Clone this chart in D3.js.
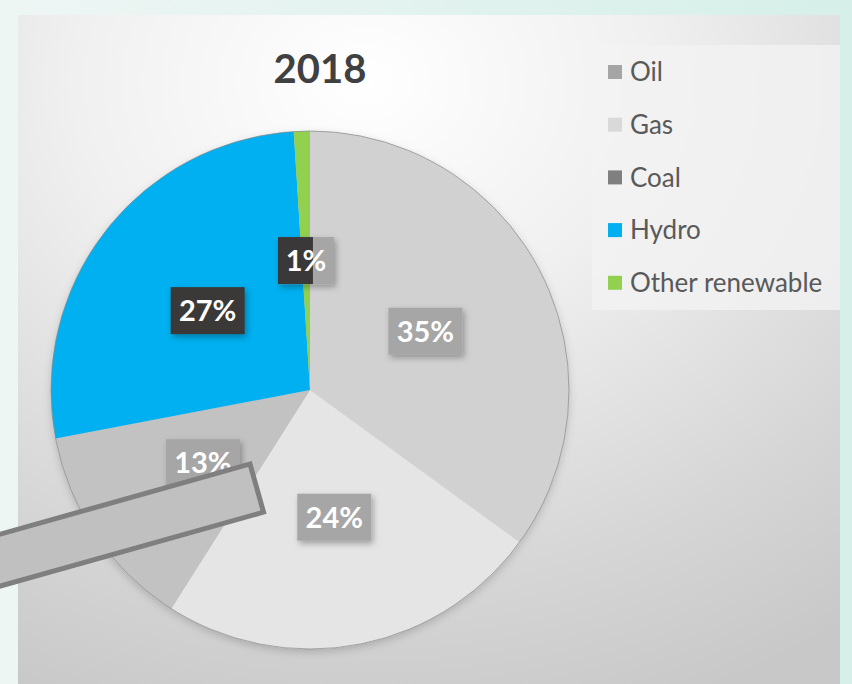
<!DOCTYPE html>
<html><head><meta charset="utf-8">
<script src="https://cdn.jsdelivr.net/npm/d3@7"></script>
<style>html,body{margin:0;padding:0;background:#e4f3ef;}svg{display:block;}</style>
</head><body>
<svg id="c" width="852" height="684"></svg>
<script>
const categories = ["Oil", "Gas", "Coal", "Hydro", "Other renewable"];
const values = [35, 24, 13, 27, 1];
const labels = ["35%", "24%", "13%", "27%", "1%"];
const sliceColors = ["#d1d1d1", "#e5e5e5", "#c2c2c2", "#00b0f0", "#92d050"];
const legendColors = ["#a5a5a5", "#d9d9d9", "#7f7f7f", "#00b0f0", "#92d050"];
const labelFills = ["#a6a6a6", "#a6a6a6", "#a6a6a6", "#3a3838", "#3a3838"];
const title = "2018";

const svg = d3.select("#c");
const defs = svg.append("defs");
const bg = defs.append("linearGradient").attr("id","bgT").attr("x1",0).attr("y1",0).attr("x2",1).attr("y2",0);
bg.append("stop").attr("offset","0").attr("stop-color","#eef6f4");
bg.append("stop").attr("offset","1").attr("stop-color","#d6efe9");
const pg = defs.append("radialGradient").attr("id","panel").attr("cx","0.42").attr("cy","0.1").attr("r","1.0");
pg.append("stop").attr("offset","0").attr("stop-color","#ffffff");
pg.append("stop").attr("offset","0.35").attr("stop-color","#f0f0f0");
pg.append("stop").attr("offset","0.75").attr("stop-color","#d6d6d6");
pg.append("stop").attr("offset","1").attr("stop-color","#c8c8c8");
const sh = defs.append("filter").attr("id","sh").attr("x","-30%").attr("y","-30%").attr("width","160%").attr("height","160%");
sh.append("feDropShadow").attr("dx",2).attr("dy",3).attr("stdDeviation",3).attr("flood-color","#000").attr("flood-opacity",0.3);
const psh = defs.append("filter").attr("id","psh").attr("x","-10%").attr("y","-10%").attr("width","120%").attr("height","120%");
psh.append("feDropShadow").attr("dx",0).attr("dy",3).attr("stdDeviation",4).attr("flood-color","#000").attr("flood-opacity",0.18);

svg.append("rect").attr("width",852).attr("height",684).attr("fill","url(#bgT)");
svg.append("rect").attr("x",18).attr("y",15).attr("width",822).attr("height",669).attr("fill","url(#panel)");

// legend background
svg.append("rect").attr("x",592).attr("y",45).attr("width",248).attr("height",265).attr("fill","#f3f3f3").attr("opacity",0.8);

svg.append("text").attr("x",320).attr("y",83).attr("text-anchor","middle")
  .attr("font-family","Lato, 'Open Sans', sans-serif").attr("font-weight","bold")
  .attr("font-size",40).attr("fill","#404040").text(title);

const cx = 310, cy = 390, R = 259;
const pie = d3.pie().sort(null).value(d => d);
const arcs = pie(values);
const arc = d3.arc().innerRadius(0).outerRadius(R);
const g = svg.append("g").attr("transform",`translate(${cx},${cy})`);
g.append("circle").attr("r",R).attr("fill","#ccc").attr("filter","url(#psh)");
g.selectAll("path.s").data(arcs).join("path").attr("class","s")
  .attr("d",arc).attr("fill",(d,i)=>sliceColors[i]);
g.append("circle").attr("r",R).attr("fill","none").attr("stroke","#8a8a8a").attr("stroke-width",0.7);

// data labels
const bw = 74, bh = 47;
const lab = g.selectAll("g.l").data(arcs).join("g").attr("class","l")
  .attr("transform",d=>{const c=arc.centroid(d);return `translate(${c[0]},${c[1]})`;});
lab.each(function(d,i){
  const s = d3.select(this);
  if (i === 4) {
    s.append("rect").attr("x",-bw/2+9).attr("y",-bh/2).attr("width",bw-18).attr("height",bh).attr("fill","#a6a6a6").attr("filter","url(#sh)");
    s.append("rect").attr("x",-bw/2+9).attr("y",-bh/2).attr("width",35).attr("height",bh).attr("fill","#3a3838");
  } else {
    s.append("rect").attr("x",-bw/2).attr("y",-bh/2).attr("width",bw).attr("height",bh).attr("fill",labelFills[i]).attr("filter","url(#sh)");
  }
  s.append("text").attr("text-anchor","middle").attr("dy","0.36em")
    .attr("font-family","Lato, 'Open Sans', sans-serif").attr("font-weight","bold")
    .attr("font-size",29).attr("fill","#ffffff").text(labels[i]);
});

// legend
const lg = svg.append("g").attr("transform","translate(608,72)");
const li = lg.selectAll("g").data(categories).join("g").attr("transform",(d,i)=>`translate(0,${i*52.7})`);
li.append("rect").attr("x",0).attr("y",-7).attr("width",14).attr("height",14).attr("fill",(d,i)=>legendColors[i]);
li.append("text").attr("x",22).attr("dy","0.36em")
  .attr("font-family","Lato, 'Open Sans', sans-serif").attr("font-size",26).attr("fill","#595959").text(d=>d);

// overlay callout bar shape
svg.append("g").attr("transform","translate(250,464) rotate(-15.7)")
  .append("rect").attr("x",-320).attr("y",0).attr("width",320).attr("height",50)
  .attr("fill","#c0c0c0").attr("stroke","#7f7f7f").attr("stroke-width",5);
</script>
</body></html>
